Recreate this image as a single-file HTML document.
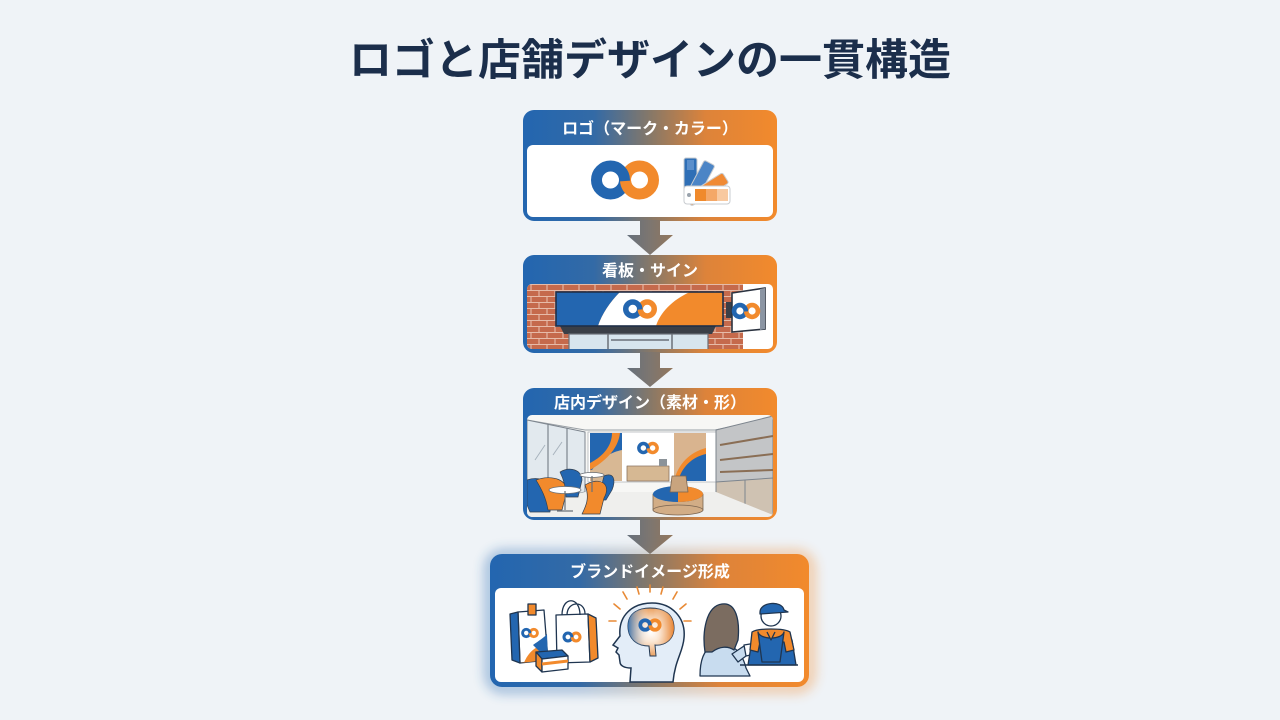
<!DOCTYPE html>
<html><head><meta charset="utf-8"><style>
html,body{margin:0;padding:0;width:1280px;height:720px;overflow:hidden;background:#eff3f7;}
svg{display:block}
text{font-family:"Liberation Sans","Noto Sans CJK JP",sans-serif;}
</style></head><body>
<svg width="1280" height="720" viewBox="0 0 1280 720" xmlns="http://www.w3.org/2000/svg">
<defs>
<linearGradient id="hg" x1="0" x2="1" y1="0" y2="0">
 <stop offset="0" stop-color="#2366b0"/>
 <stop offset="0.28" stop-color="#336aa6"/>
 <stop offset="0.5" stop-color="#867868"/>
 <stop offset="0.72" stop-color="#dd833a"/>
 <stop offset="1" stop-color="#f28a2c"/>
</linearGradient>
<linearGradient id="ag" x1="0" x2="1" y1="0" y2="0">
 <stop offset="0" stop-color="#66707c"/>
 <stop offset="0.5" stop-color="#7d7670"/>
 <stop offset="1" stop-color="#93775c"/>
</linearGradient>
<radialGradient id="bg" cx="0.5" cy="0.5" r="0.6">
 <stop offset="0" stop-color="#ffffff"/>
 <stop offset="0.35" stop-color="#fbe6d2"/>
 <stop offset="1" stop-color="#e58a3c"/>
</radialGradient>
<linearGradient id="brainlr" x1="0" x2="1" y1="0" y2="0">
 <stop offset="0" stop-color="#2f72b8" stop-opacity="0.9"/>
 <stop offset="0.45" stop-color="#ffffff" stop-opacity="0"/>
 <stop offset="0.55" stop-color="#ffffff" stop-opacity="0"/>
 <stop offset="1" stop-color="#e8822e" stop-opacity="0.9"/>
</linearGradient>
<pattern id="brick" width="16" height="12" patternUnits="userSpaceOnUse" x="527" y="284">
 <rect width="16" height="12" fill="#c56a4c"/>
 <path d="M0,0.5H16M0,6.5H16M4,0V6M12,6V12" stroke="#e6bba8" stroke-width="1.1" fill="none"/>
</pattern>
<g id="logo">
 <circle cx="14.5" cy="0" r="14" fill="none" stroke="#f28a2c" stroke-width="11"/>
 <circle cx="-14.5" cy="0" r="14" fill="none" stroke="#2366b0" stroke-width="11"/>
 <path d="M0.5,1 A14,14 0 0 0 7.5,12.1" fill="none" stroke="#f28a2c" stroke-width="11"/>
</g>
<filter id="blur" x="-20%" y="-30%" width="140%" height="160%"><feGaussianBlur stdDeviation="6"/></filter>
<clipPath id="c2"><rect x="527" y="284" width="246" height="65" rx="5"/></clipPath>
<clipPath id="c3"><rect x="527" y="415" width="246" height="102" rx="5"/></clipPath>
</defs>

<!-- Title -->
<text x="650" y="75" text-anchor="middle" font-size="43" font-weight="bold" fill="#1b2e4b">ロゴと店舗デザインの一貫構造</text>

<!-- Box 1 -->
<rect x="523" y="110" width="254" height="111" rx="11" fill="url(#hg)"/>
<rect x="527" y="145" width="246" height="72" rx="6" fill="#ffffff"/>
<text x="650" y="134" text-anchor="middle" font-size="16" font-weight="bold" fill="#ffffff">ロゴ（マーク・カラー）</text>
<use href="#logo" transform="translate(625,180)"/>
<!-- palette -->
<g>
 <rect x="684" y="158" width="13" height="44" rx="2" fill="#2f6fb6" stroke="#c9ccd0" stroke-width="1"/>
 <rect x="687" y="160" width="7" height="10" fill="#5b8fcb"/>
 <g transform="rotate(28 690 200)"><rect x="684" y="158" width="12" height="44" rx="2" fill="#4c85c6" stroke="#c9ccd0"/></g>
 <g transform="rotate(58 690 200)"><rect x="684" y="158" width="12" height="44" rx="2" fill="#f08a34" stroke="#c9ccd0"/></g>
 <rect x="684" y="186" width="46" height="18" rx="3" fill="#ffffff" stroke="#c9ccd0"/>
 <rect x="695" y="189" width="11" height="12" fill="#f08a2c"/>
 <rect x="706" y="189" width="11" height="12" fill="#f4a868"/>
 <rect x="717" y="189" width="11" height="12" fill="#f8c9a0"/>
 <circle cx="689" cy="195" r="2" fill="#9aa3ad"/>
</g>

<!-- Arrow 1 -->
<path d="M640,220 H660 V235 H673 L650,255 L627,235 H640 Z" fill="url(#ag)"/>

<!-- Box 2 -->
<rect x="523" y="255" width="254" height="98" rx="11" fill="url(#hg)"/>
<rect x="527" y="284" width="246" height="65" rx="5" fill="#ffffff"/>
<text x="650" y="276" text-anchor="middle" font-size="16" font-weight="bold" fill="#ffffff">看板・サイン</text>
<g clip-path="url(#c2)">
 <rect x="527" y="284" width="216" height="66" fill="url(#brick)"/>
 <path d="M560,326 H716 L712,334 H564 Z" fill="#3a3f47"/>
 <rect x="569" y="334" width="139" height="16" fill="#d7e5ee" stroke="#6a7078" stroke-width="1.2"/>
 <path d="M608,334V350M672,334V350M611,340H669" stroke="#6a7078" stroke-width="1.5"/>
 <rect x="556" y="292" width="167" height="34" fill="#f28a2c"/>
 <path d="M556,292 H620 C610,302 602,314 598,326 H556 Z" fill="#2366b0"/>
 <path d="M620,292 H690 C672,300 660,313 656,326 H598 C602,314 610,302 620,292 Z" fill="#ffffff"/>
 <rect x="556" y="292" width="167" height="34" fill="none" stroke="#1f2f48" stroke-width="1.6"/>
 <use href="#logo" transform="translate(640,309) scale(0.5)"/>
 <rect x="726" y="302" width="6" height="16" fill="#3a3f47"/>
 <path d="M732,293 L765,288 L765,329 L732,332 Z" fill="#ffffff" stroke="#2b3340" stroke-width="1.6"/>
 <path d="M760,289 L765,288 L765,329 L760,330 Z" fill="#8b95a3"/>
 <use href="#logo" transform="translate(746,311) scale(0.42)"/>
</g>

<!-- Arrow 2 -->
<path d="M640,352 H660 V368 H673 L650,387 L627,368 H640 Z" fill="url(#ag)"/>

<!-- Box 3 -->
<rect x="523" y="388" width="254" height="132" rx="11" fill="url(#hg)"/>
<rect x="527" y="415" width="246" height="102" rx="5" fill="#f7f7f5"/>
<text x="650" y="408" text-anchor="middle" font-size="16" font-weight="bold" fill="#ffffff">店内デザイン（素材・形）</text>
<g clip-path="url(#c3)" stroke-linejoin="round">
 <path d="M527,420 L585,430 M585,430 H715 M715,430 L773,418" stroke="#9aa0a6" stroke-width="1" fill="none"/>
 <path d="M527,420 L585,432 L585,492 L527,505 Z" fill="#e2e9ee" stroke="#7d858e" stroke-width="1"/>
 <path d="M548,424 V500 M567,428 V496" stroke="#7d858e" stroke-width="1.2"/>
 <path d="M535,460 L545,445 M553,455 L562,442" stroke="#a8b3bd" stroke-width="1"/>
 <rect x="588" y="432" width="128" height="50" fill="#ffffff" stroke="#b0b4b8" stroke-width="0.8"/>
 <rect x="590" y="433" width="32" height="48" fill="#d8b894"/>
 <path d="M590,433 H622 V450 C612,452 600,458 592,470 H590 Z" fill="#2366b0"/>
 <path d="M612,433 C612,448 600,458 590,463 V470 C604,462 618,450 620,433 Z" fill="#f28a2c"/>
 <rect x="674" y="433" width="32" height="48" fill="#d9b48f"/>
 <path d="M706,452 C690,456 680,466 676,481 H706 Z" fill="#2366b0"/>
 <path d="M706,448 C690,452 678,464 674,481 H678 C682,467 692,457 706,454 Z" fill="#f28a2c"/>
 <use href="#logo" transform="translate(648,448) scale(0.32)"/>
 <path d="M716,430 L773,416 V517 L716,495 Z" fill="#c3c5c7" stroke="#7d858e" stroke-width="1"/>
 <path d="M720,445 L773,436 M720,460 L773,454 M720,472 L773,470" stroke="#8a6e55" stroke-width="2"/>
 <path d="M716,482 L773,478 V517 H716 Z" fill="#cfc2b2" stroke="#7d858e" stroke-width="1"/>
 <path d="M745,480 V517" stroke="#7d858e"/>
 <path d="M527,505 L585,492 H716 L773,515 V517 H527 Z" fill="#efefed"/>
 <rect x="627" y="466" width="42" height="15" fill="#d6b893" stroke="#8a7460" stroke-width="0.8"/>
 <rect x="659" y="459" width="8" height="7" fill="#8c9399"/>
 <rect x="653" y="494" width="50" height="16" fill="#d2ad86" stroke="#7a6450" stroke-width="0.8"/>
 <ellipse cx="678" cy="510" rx="25" ry="5" fill="#d2ad86" stroke="#7a6450" stroke-width="0.8"/>
 <ellipse cx="678" cy="494" rx="25" ry="8" fill="#2366b0"/>
 <path d="M678,486 A25,8 0 0 1 678,502 Z" fill="#f28a2c"/>
 <path d="M670,492 L672,476 H686 L688,492 Z" fill="#c9a47e" stroke="#7a6450" stroke-width="0.8"/>
 <!-- chairs -->
 <g stroke="#34404f" stroke-width="0.7">
 <path d="M527,480 C538,476 550,480 552,492 L550,512 H530 L527,505 Z" fill="#2366b0"/>
 <path d="M536,480 C552,474 570,480 566,494 L562,510 H548 C546,498 542,490 536,480 Z" fill="#f28a2c"/>
 <path d="M560,472 C570,466 582,470 582,480 L578,497 H566 C566,488 564,480 560,472 Z" fill="#2366b0"/>
 <path d="M604,476 C614,472 616,480 612,490 L606,500 H598 Z" fill="#2366b0"/>
 <path d="M585,485 C600,476 612,484 604,498 L600,514 H582 C586,506 590,498 585,485 Z" fill="#f28a2c"/>
 </g>
 <ellipse cx="565" cy="490" rx="16" ry="3.5" fill="#ffffff" stroke="#6b7178" stroke-width="0.8"/>
 <path d="M565,491 V510 M557,511 H573" stroke="#6b7178" stroke-width="1.2"/>
 <ellipse cx="592" cy="475" rx="12" ry="2.5" fill="#ffffff" stroke="#6b7178" stroke-width="0.8"/>
 <path d="M592,476 V492" stroke="#6b7178" stroke-width="1.2"/>
</g>

<!-- Arrow 3 -->
<path d="M640,519 H660 V535 H673 L650,554 L627,535 H640 Z" fill="url(#ag)"/>

<!-- Box 4 glow -->
<rect x="490" y="555" width="320" height="133" rx="13" fill="none" stroke="url(#hg)" stroke-width="10" filter="url(#blur)" opacity="0.45"/>
<rect x="490" y="554" width="319" height="133" rx="12" fill="url(#hg)"/>
<rect x="495" y="588" width="309" height="94" rx="6" fill="#ffffff"/>
<text x="650" y="577" text-anchor="middle" font-size="16" font-weight="bold" fill="#ffffff">ブランドイメージ形成</text>

<!-- bags -->
<g stroke="#1f3550" stroke-width="1.3" stroke-linejoin="round">
 <path d="M518,612 L544,610 L548,660 L520,663 Z" fill="#ffffff"/>
 <path d="M510,614 L518,612 L520,663 L512,660 Z" fill="#2366b0"/>
 <path d="M520,663 L548,660 L547,645 C538,644 528,652 524,663 Z" fill="#f28a2c" stroke="none"/>
 <path d="M533,645 C540,640 546,636 547,634 L548,660 Z" fill="#2366b0" stroke="none"/>
 <rect x="528" y="604" width="8" height="11" fill="#f28a2c"/>
 <path d="M556,615 L588,614 L590,662 L557,663 Z" fill="#ffffff"/>
 <path d="M588,614 L596,618 L598,658 L590,662 Z" fill="#f28a2c"/>
 <path d="M562,615 C562,596 580,596 580,615 M567,615 C567,601 585,600 585,614" fill="none"/>
 <path d="M536,652 L562,650 L568,656 L542,659 Z" fill="#2366b0"/>
 <path d="M536,652 L542,659 V672 L536,666 Z" fill="#f28a2c"/>
 <path d="M542,659 L568,656 V669 L542,672 Z" fill="#ffffff"/>
 <path d="M542,664 L568,661" stroke="#f28a2c" stroke-width="3"/>
</g>
<use href="#logo" transform="translate(530,633) scale(0.26)"/>
<use href="#logo" transform="translate(572,637) scale(0.28)"/>

<!-- head -->
<g stroke="#e88a36" stroke-width="1.6" stroke-linecap="round">
 <path d="M609,621 H616 M614,604 L620,609 M623,592 L627,599 M637,587 L639,594 M650,585 V592 M663,587 L661,594 M677,592 L673,599 M686,604 L680,609 M691,621 H684"/>
</g>
<path d="M630,682 L631,668 C625,668 620,666 620,662 L619,655 L616,652 L618,648 L613,645 L620,636 C618,615 633,603 652,603 C672,603 686,618 684,638 C683,652 675,660 673,682 Z" fill="#e3edf8" stroke="#1f3550" stroke-width="1.5"/>
<path d="M628,626 C628,612 640,608 650,608 C664,608 674,614 674,628 C674,640 664,646 655,645 L656,656 H650 L649,646 C636,646 628,638 628,626 Z" fill="url(#bg)" stroke="#1f3550" stroke-width="1"/>
<path d="M628,626 C628,612 640,608 650,608 C664,608 674,614 674,628 C674,640 664,646 655,645 L656,656 H650 L649,646 C636,646 628,638 628,626 Z" fill="url(#brainlr)"/>
<use href="#logo" transform="translate(650,625) scale(0.34)"/>

<!-- people -->
<g stroke="#1f3550" stroke-width="1.3" stroke-linejoin="round">
 <path d="M700,676 C700,660 704,650 712,646 L722,644 L734,648 C740,652 744,660 746,668 L750,676 Z" fill="#c8dcef"/>
 <path d="M732,654 L744,646 L750,648 L746,656 L738,662 Z" fill="#c8dcef"/>
 <path d="M705,652 C702,632 706,606 722,604 C736,602 740,620 738,640 L734,650 C728,646 720,646 712,652 Z" fill="#7b6c60"/>
 <path d="M744,645 L762,642 L764,652 L746,656 Z" fill="#ffffff"/>
 <path d="M752,640 L792,640 L796,665 L748,665 Z" fill="#2366b0"/>
 <path d="M752,632 C758,628 784,628 790,632 L794,650 L786,652 L784,642 H760 L758,652 L750,650 Z" fill="#f28a2c"/>
 <path d="M758,632 C760,640 782,640 784,632 L780,662 H762 Z" fill="#2366b0"/>
 <path d="M767,632 L771,640 L775,632" fill="#f28a2c"/>
 <circle cx="771" cy="616" r="10" fill="#ffffff"/>
 <path d="M760,612 C760,602 782,600 784,610 L788,612 L760,614 Z" fill="#2366b0"/>
 <path d="M740,665 H798" stroke-width="1.6"/>
</g>
</svg>
</body></html>
